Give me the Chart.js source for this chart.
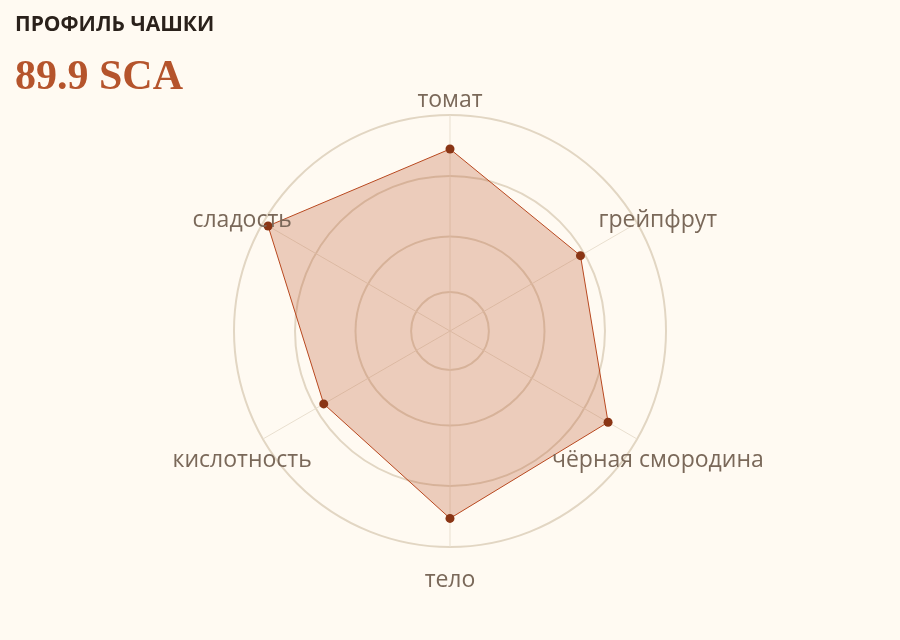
<!DOCTYPE html>
<html lang="ru">
<head>
<meta charset="utf-8">
<title>Профиль чашки</title>
<script src="https://cdn.jsdelivr.net/npm/chart.js@4.4.1/dist/chart.umd.min.js"></script>
<style>
  html, body { margin: 0; padding: 0; background: #fffaf2; }
  #cupChart { display: block; }
</style>
</head>
<body>
<canvas id="cupChart" width="900" height="640"></canvas>
<script>
// cupping attributes, clockwise from the top
const attributes = ['томат', 'грейпфрут', 'чёрная смородина', 'тело', 'кислотность', 'сладость'];
const scores = [9.37, 8.79, 9.38, 9.47, 8.70, 9.89];

// radial scale range and the grid rings
const scaleMin = 6;
const scaleMax = 10;
const ringLevels = [6.72, 7.75, 8.87, 10];

const titleText = 'ПРОФИЛЬ ЧАШКИ';
const totalScore = '89.9 SCA';

// labels centred on each spoke, a bit outside the outer ring
const spokeLabels = {
    id: 'spokeLabels',
    afterDraw(chart) {
        const scale = chart.scales.r;
        const ctx = chart.ctx;
        ctx.save();
        ctx.font = '23px "Open Sans"';
        ctx.fillStyle = '#7a6859';
        ctx.textAlign = 'center';
        ctx.textBaseline = 'middle';
        chart.data.labels.forEach((label, i) => {
            const p = scale.getPointPosition(i, scale.drawingArea + 24);
            ctx.fillText(label, p.x, p.y + 9);
        });
        ctx.restore();
    }
};

const ctx = document.getElementById('cupChart').getContext('2d');
const cupChart = new Chart(ctx, {
    type: 'radar',
    data: {
        labels: attributes,
        datasets: [{
            label: 'профиль',
            data: scores,
            fill: true,
            backgroundColor: 'rgba(185, 80, 40, 0.27)',
            borderColor: '#b8481f',
            borderWidth: 1,
            pointRadius: 4.5,
            pointBackgroundColor: '#8a3515',
            pointBorderColor: '#8a3515',
            pointBorderWidth: 0
        }]
    },
    options: {
        responsive: false,
        animation: false,
        layout: { padding: { left: 15, right: 15, top: 0, bottom: 92 } },
        scales: {
            r: {
                min: scaleMin,
                max: scaleMax,
                afterBuildTicks: (scale) => {
                    scale.ticks = [scaleMin, ...ringLevels].map(v => ({ value: v }));
                },
                ticks: { display: false },
                pointLabels: { display: false },
                grid: { circular: true, color: '#e2d6c3', lineWidth: 2 },
                angleLines: { color: '#e9dfcf', lineWidth: 1 }
            }
        },
        plugins: {
            legend: { display: false },
            tooltip: { enabled: false },
            title: {
                display: true,
                text: titleText,
                align: 'start',
                color: '#2a211b',
                font: { family: '"Open Sans"', size: 21, weight: 'bold' },
                padding: { top: 12, bottom: 0 }
            },
            subtitle: {
                display: true,
                text: totalScore,
                align: 'start',
                color: '#b5542c',
                font: { family: '"Liberation Serif"', size: 42, weight: 'bold' },
                padding: { top: 16, bottom: 11.4 }
            }
        }
    },
    plugins: [spokeLabels]
});
</script>
</body>
</html>
